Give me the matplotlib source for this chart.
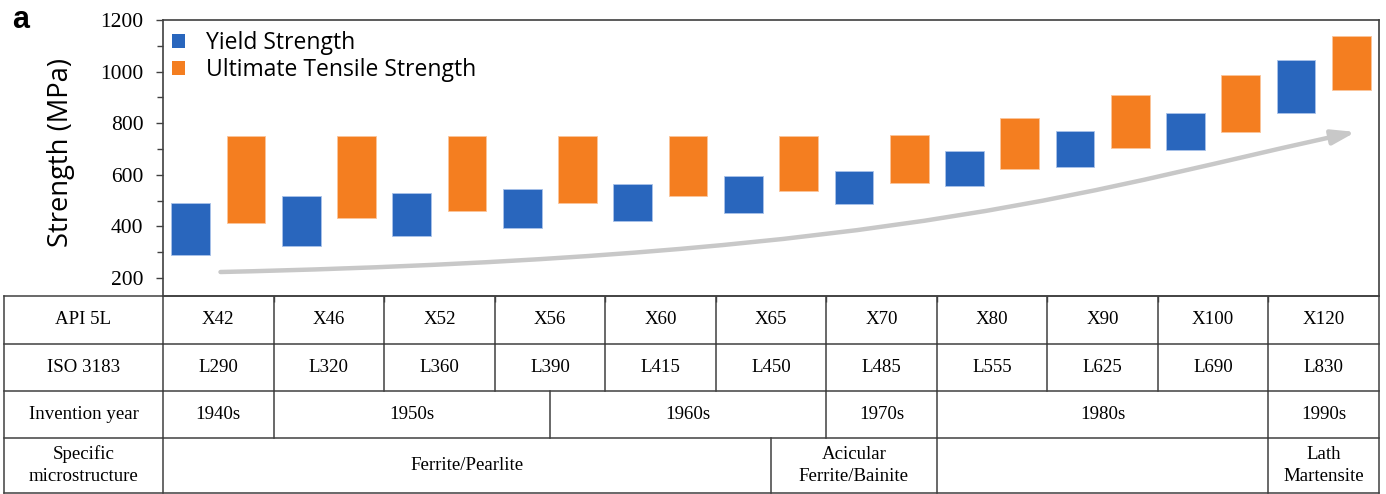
import numpy as np
import matplotlib
matplotlib.use('Agg')
import matplotlib.pyplot as plt
from matplotlib.patches import Patch, FancyArrowPatch
from matplotlib.path import Path
from matplotlib.ticker import MultipleLocator

# 钢级强度范围 (MPa)
api_grades = ['X42', 'X46', 'X52', 'X56', 'X60', 'X65', 'X70', 'X80', 'X90', 'X100', 'X120']
iso_grades = ['L290', 'L320', 'L360', 'L390', 'L415', 'L450', 'L485', 'L555', 'L625', 'L690', 'L830']
ys_low = [290, 325, 364, 393, 420, 451, 487, 558, 631, 697, 838]
ys_high = [491, 517, 528, 545, 563, 594, 616, 692, 770, 838, 1045]
uts_low = [414, 433, 460, 492, 518, 537, 568, 621, 704, 766, 929]
uts_high = [752, 752, 752, 752, 752, 752, 756, 819, 909, 986, 1139]

# 合并单元格: (文字, 起始列, 结束列)
year_spans = [('1940s', 0, 1), ('1950s', 1, 3.5), ('1960s', 3.5, 6),
              ('1970s', 6, 7), ('1980s', 7, 10), ('1990s', 10, 11)]
micro_spans = [('Ferrite/Pearlite', 0, 5.5), ('Acicular\nFerrite/Bainite', 5.5, 7),
               ('', 7, 10), ('Lath\nMartensite', 10, 11)]
row_names = ['API 5L', 'ISO 3183', 'Invention year', 'Specific\nmicrostructure']

# 趋势箭头 (三次贝塞尔控制点)
trend_x = [0.52, 6.85, 8.53, 10.79]
trend_y = [223, 285, 563, 766]

blue = '#2966bd'
orange = '#f47e20'
line_c = '#404040'
serif = 'Liberation Serif'
sans = 'Open Sans'

W, H = 1386, 494
fig = plt.figure(figsize=(W / 100, H / 100), dpi=100)
ax = fig.add_axes([163 / W, 1 - 296 / H, (1379 - 163) / W, (296 - 20) / H])

n = len(api_grades)
x = np.arange(n)
bw = 0.35
ax.bar(x + 0.25, np.array(ys_high) - np.array(ys_low), bottom=ys_low, width=bw,
       color=blue, edgecolor='#a9c2ea', linewidth=0.6, zorder=3)
ax.bar(x + 0.75, np.array(uts_high) - np.array(uts_low), bottom=uts_low, width=bw,
       color=orange, edgecolor='#fbc49a', linewidth=0.6, zorder=3)

verts = list(zip(trend_x, trend_y))
codes = [Path.MOVETO, Path.CURVE4, Path.CURVE4, Path.CURVE4]
arrow = FancyArrowPatch(path=Path(verts, codes), arrowstyle='-|>,head_length=0.7,head_width=0.22',
                        mutation_scale=20, color='#c8c8c8', lw=3.2, zorder=2)
ax.add_patch(arrow)

ax.set_xlim(0, n)
ax.set_ylim(130, 1200)
ax.yaxis.set_major_locator(MultipleLocator(200))
ax.yaxis.set_minor_locator(MultipleLocator(100))
ax.set_xticks(np.arange(1, n))
ax.set_xticklabels([])
ax.tick_params(axis='y', which='major', direction='out', length=5, width=1, color=line_c,
               labelsize=15.5, pad=9)
ax.tick_params(axis='y', which='minor', direction='out', length=4.5, width=1, color=line_c)
ax.tick_params(axis='x', direction='out', length=4, width=1, color=line_c)
for lab in ax.get_yticklabels():
    lab.set_fontfamily(serif)
for sp in ax.spines.values():
    sp.set_color(line_c)
    sp.set_linewidth(1.2)

ax.set_ylabel('Strength (MPa)', fontsize=19.7, fontfamily=sans)
ax.yaxis.set_label_coords(-0.072, 0.52)

handles = [Patch(facecolor=blue), Patch(facecolor=orange)]
ax.legend(handles, ['Yield Strength', 'Ultimate Tensile Strength'],
          loc='upper left', bbox_to_anchor=(9 / 1216, 1 - 11 / 276),
          frameon=False, prop={'family': sans, 'size': 16.5},
          handlelength=0.55, handleheight=0.55, handletextpad=0.95,
          labelspacing=0.13, borderpad=0, borderaxespad=0)

fig.text(12 / W, 1 - 20 / H, 'a', fontsize=22, fontweight='bold',
         fontfamily='Liberation Sans', va='center', ha='left')

# 下方表格
tab = fig.add_axes([4 / W, 0, (1379 - 4) / W, 1 - 296 / H])
x0 = -(163 - 4) / ((1379 - 163) / n)
tab.set_xlim(x0, n)
row_edges = [0, 47.5, 94.5, 141.5, 197]
tab.set_ylim(198, 0)
tab.axis('off')

lw = 1.1
for y in row_edges:
    tab.plot([x0, n], [y, y], color=line_c, lw=lw, clip_on=False)
tab.plot([x0, x0], [0, 197], color=line_c, lw=lw, clip_on=False)
tab.plot([n, n], [0, 197], color=line_c, lw=lw, clip_on=False)

fs = 13.6
for i, name in enumerate(row_names):
    tab.text(x0 / 2, (row_edges[i] + row_edges[i + 1]) / 2, name, ha='center', va='center',
             fontsize=fs, fontfamily=serif, linespacing=1.35)


def draw_row(r, spans):
    y0, y1 = row_edges[r], row_edges[r + 1]
    for label, a, b in spans:
        tab.plot([a, a], [y0, y1], color=line_c, lw=lw)
        tab.text((a + b) / 2, (y0 + y1) / 2, label, ha='center', va='center',
                 fontsize=fs, fontfamily=serif, linespacing=1.35)


draw_row(0, [(g, i, i + 1) for i, g in enumerate(api_grades)])
draw_row(1, [(g, i, i + 1) for i, g in enumerate(iso_grades)])
draw_row(2, year_spans)
draw_row(3, micro_spans)

fig.savefig('out.png', dpi=100)
